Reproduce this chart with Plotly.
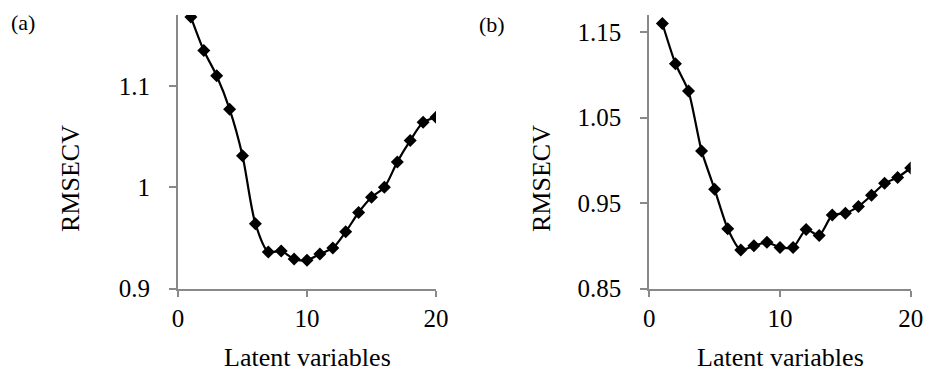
import plotly.graph_objects as go

W, H = 928, 371

lv = list(range(1, 21))
rmsecv_a = [1.168, 1.135, 1.110, 1.077, 1.031, 0.964, 0.936, 0.937, 0.929, 0.928,
            0.934, 0.940, 0.956, 0.975, 0.990, 1.000, 1.025, 1.046, 1.064, 1.069]
rmsecv_b = [1.160, 1.113, 1.081, 1.011, 0.966, 0.920, 0.895, 0.900, 0.904, 0.898,
            0.898, 0.919, 0.912, 0.936, 0.938, 0.946, 0.959, 0.973, 0.980, 0.991]

x_ticks = [0, 10, 20]
ya_ticks = [0.9, 1.0, 1.1]
ya_text = ["0.9", "1", "1.1"]
yb_ticks = [0.85, 0.95, 1.05, 1.15]
yb_text = ["0.85", "0.95", "1.05", "1.15"]

FONT = "Liberation Serif, Times New Roman, serif"
AXC = "#898989"

fig = go.Figure()
fig.add_trace(go.Scatter(x=lv, y=rmsecv_a, mode="lines+markers",
                         line=dict(color="black", width=2.2, shape="spline", smoothing=0.8),
                         marker=dict(symbol="diamond", size=10, color="black"),
                         xaxis="x", yaxis="y", showlegend=False))
fig.add_trace(go.Scatter(x=lv, y=rmsecv_b, mode="lines+markers",
                         line=dict(color="black", width=2.2, shape="spline", smoothing=0.6),
                         marker=dict(symbol="diamond", size=10, color="black"),
                         xaxis="x2", yaxis="y2", showlegend=False))

ydom = [1 - 288.5 / H, 1 - 15 / H]
common_x = dict(range=[0, 20], tickvals=x_ticks, showline=True, linecolor=AXC, linewidth=2,
                ticks="outside", ticklen=6, tickwidth=2, tickcolor=AXC, showgrid=False,
                zeroline=False, automargin=False,
                tickfont=dict(family=FONT, size=25, color="black"))
common_y = dict(showline=True, linecolor=AXC, linewidth=2, ticks="outside", ticklen=7,
                tickwidth=2, tickcolor=AXC, showgrid=False, zeroline=False, automargin=False,
                ticklabelstandoff=14, tickfont=dict(family=FONT, size=25, color="black"))

fig.update_layout(
    width=W, height=H, autosize=False,
    margin=dict(l=0, r=0, t=0, b=0, pad=0, autoexpand=False),
    paper_bgcolor="white", plot_bgcolor="white",
    xaxis=dict(domain=[178 / W, 436 / W], anchor="y", **common_x),
    yaxis=dict(domain=ydom, anchor="x", range=[0.9, 1.17], tickvals=ya_ticks,
               ticktext=ya_text, **common_y),
    xaxis2=dict(domain=[649.3 / W, 910.7 / W], anchor="y2", **common_x),
    yaxis2=dict(domain=ydom, anchor="x2", range=[0.85, 1.17], tickvals=yb_ticks,
                ticktext=yb_text, **common_y),
)

ann_font = dict(family=FONT, size=26, color="black")
fig.add_annotation(text="RMSECV", x=70 / W, y=1 - 179 / H, xref="paper", yref="paper",
                   textangle=-90, showarrow=False, font=ann_font, xanchor="center", yanchor="middle")
fig.add_annotation(text="RMSECV", x=541 / W, y=1 - 179 / H, xref="paper", yref="paper",
                   textangle=-90, showarrow=False, font=ann_font, xanchor="center", yanchor="middle")
fig.add_annotation(text="Latent variables", x=307 / W, y=1 - 357 / H, xref="paper", yref="paper",
                   showarrow=False, font=ann_font, xanchor="center", yanchor="middle")
fig.add_annotation(text="Latent variables", x=780 / W, y=1 - 357 / H, xref="paper", yref="paper",
                   showarrow=False, font=ann_font, xanchor="center", yanchor="middle")
fig.add_annotation(text="(a)", x=23 / W, y=1 - 23 / H, xref="paper", yref="paper",
                   showarrow=False, font=dict(family=FONT, size=22, color="black"),
                   xanchor="center", yanchor="middle")
fig.add_annotation(text="(b)", x=492 / W, y=1 - 25 / H, xref="paper", yref="paper",
                   showarrow=False, font=dict(family=FONT, size=22, color="black"),
                   xanchor="center", yanchor="middle")

fig.write_html("out.html")
